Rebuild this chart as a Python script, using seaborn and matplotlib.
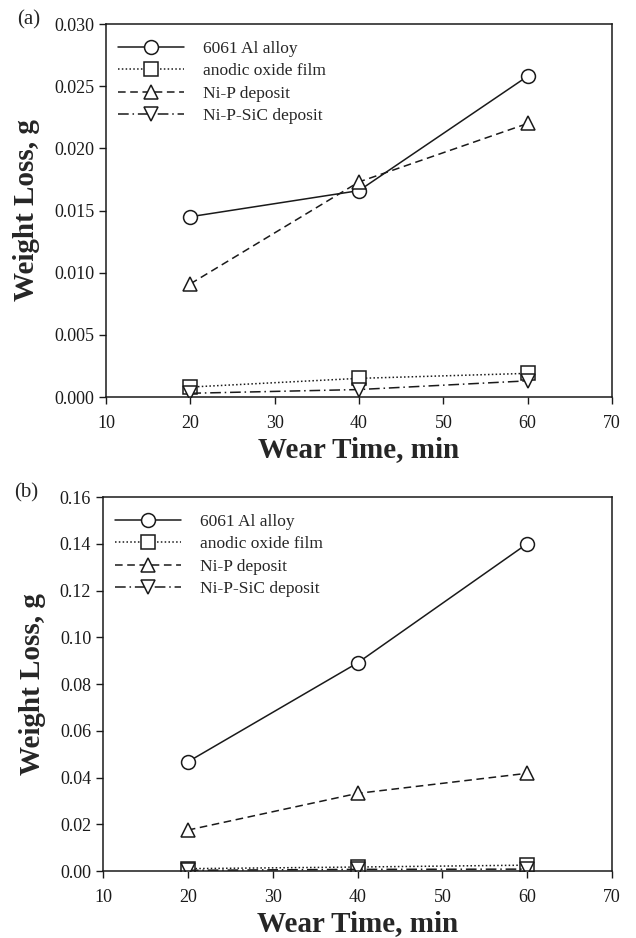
import numpy as np
import pandas as pd
import matplotlib
matplotlib.use("Agg")
import matplotlib.pyplot as plt
import seaborn as sns

# wear times (min)
wear_time = [20, 40, 60]

series_names = ["6061 Al alloy", "anodic oxide film", "Ni-P deposit", "Ni-P-SiC deposit"]

# panel (a): weight loss, g
a_al = [0.0145, 0.0166, 0.0258]
a_oxide = [0.0008, 0.0015, 0.0019]
a_nip = [0.0091, 0.0173, 0.0220]
a_sic = [0.0003, 0.0006, 0.0013]

# panel (b): weight loss, g
b_al = [0.0467, 0.0890, 0.1400]
b_oxide = [0.0010, 0.0017, 0.0025]
b_nip = [0.0175, 0.0332, 0.0418]
b_sic = [0.0003, 0.0007, 0.0008]

markers = ["o", "s", "^", "v"]
dashes = ["-", (0, (1, 1.5)), (0, (5, 3)), (0, (7, 2.5, 1, 2.5))]

sns.set_theme(style="ticks")
plt.rcParams["font.family"] = ["Liberation Serif", "DejaVu Serif"]

fig = plt.figure(figsize=(6.36, 9.38), dpi=100)
ax_a = fig.add_axes([106 / 636, 1 - 397 / 938, (612 - 106) / 636, (397 - 24) / 938])
ax_b = fig.add_axes([103 / 636, 1 - 871 / 938, (612 - 103) / 636, (871 - 497) / 938])


def draw_panel(ax, values, ymax, ystep, fmt, tag):
    for name, vals, mk, ls in zip(series_names, values, markers, dashes):
        df = pd.DataFrame({"time": wear_time, "loss": vals})
        sns.lineplot(data=df, x="time", y="loss", ax=ax, color="#1a1a1a",
                     linestyle=ls, linewidth=1.1, marker=mk, markersize=10,
                     markerfacecolor="white", markeredgecolor="#1a1a1a",
                     markeredgewidth=1.1, label=name)
    ax.set_xlim(10, 70)
    ax.set_ylim(0, ymax)
    ax.set_xticks(np.arange(10, 71, 10))
    ax.set_yticks(np.arange(0, ymax + ystep / 2, ystep))
    ax.yaxis.set_major_formatter(matplotlib.ticker.FormatStrFormatter(fmt))
    ax.tick_params(labelsize=13, length=5, width=1, direction="out", colors="#1a1a1a")
    ax.tick_params(axis="x", pad=8)
    for sp in ax.spines.values():
        sp.set_linewidth(1.1)
        sp.set_color("#1a1a1a")
    ax.set_xlabel("Wear Time, min", fontsize=21, fontweight="bold", labelpad=3)
    ax.set_ylabel("Weight Loss, g", fontsize=21, fontweight="bold", labelpad=10)
    ax.legend(loc="upper left", frameon=False, fontsize=12.5, handlelength=3.8,
              handletextpad=1.1, labelspacing=0.36, borderaxespad=0.3,
              bbox_to_anchor=(0.0, 0.988))
    ax.text(-0.175, 1.01, tag, transform=ax.transAxes, fontsize=15, va="center", ha="left")


draw_panel(ax_a, [a_al, a_oxide, a_nip, a_sic], 0.030, 0.005, "%.3f", "(a)")
draw_panel(ax_b, [b_al, b_oxide, b_nip, b_sic], 0.16, 0.02, "%.2f", "(b)")

fig.savefig("out.png", dpi=100)
